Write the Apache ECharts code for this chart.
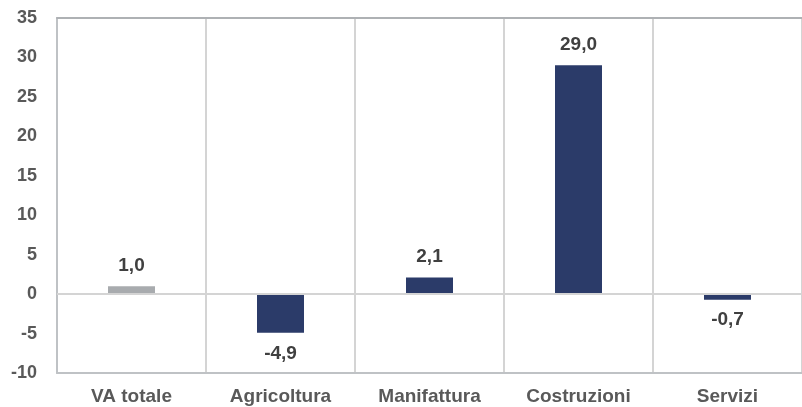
<!DOCTYPE html>
<html><head><meta charset="utf-8">
<script src="https://cdn.jsdelivr.net/npm/echarts@6/dist/echarts.min.js"></script>
<style>html,body{margin:0;padding:0;background:#fff}#c{width:802px;height:407px}</style>
</head><body><div id="c"></div>
<script>
const categories = ['VA totale', 'Agricoltura', 'Manifattura', 'Costruzioni', 'Servizi'];
const values = [1.0, -4.9, 2.1, 29.0, -0.7];
const barColors = ['#A8ABAE', '#2B3B69', '#2B3B69', '#2B3B69', '#2B3B69'];
const yMin = -10, yMax = 35, yStep = 5;

const font = 'Liberation Sans, Arial, sans-serif';
const chart = echarts.init(document.getElementById('c'), null, {renderer: 'canvas'});
chart.setOption({
  animation: false,
  grid: {left: 57, right: 0, top: 18, bottom: 34, containLabel: false},
  xAxis: [{
    type: 'category', data: categories, boundaryGap: true,
    axisLine: {onZero: false, lineStyle: {color: '#BFC2C5', width: 2}},
    axisTick: {show: false},
    axisLabel: {color: '#595959', fontSize: 19, fontWeight: 'bold', fontFamily: font, margin: 14},
    splitLine: {show: true, interval: 0, lineStyle: {color: '#D4D4D4', width: 2}}
  }, {
    type: 'category', data: categories, position: 'top',
    axisLine: {show: true, onZero: false, lineStyle: {color: '#AEB1B4', width: 2}},
    axisTick: {show: false}, axisLabel: {show: false}, splitLine: {show: false}
  }],
  yAxis: {
    type: 'value', min: yMin, max: yMax, interval: yStep,
    axisLine: {show: true, lineStyle: {color: '#BFC2C5', width: 2}},
    axisTick: {show: false},
    splitLine: {show: false},
    axisLabel: {color: '#595959', fontSize: 18, fontWeight: 'bold', fontFamily: font, margin: 20}
  },
  series: [{
    type: 'bar', barWidth: 47,
    data: values.map((v, i) => ({
      value: v,
      itemStyle: {color: barColors[i]},
      label: {position: v >= 0 ? 'top' : 'bottom'}
    })),
    label: {
      show: true, distance: 11,
      color: '#404040', fontSize: 19, fontWeight: 'bold', fontFamily: font,
      formatter: p => p.value.toFixed(1).replace('.', ',')
    },
    markLine: {
      silent: true, symbol: 'none', label: {show: false},
      lineStyle: {color: '#D4D4D4', width: 2, type: 'solid'},
      data: [{yAxis: 0}]
    },
    z: 3
  }]
});
</script></body></html>
